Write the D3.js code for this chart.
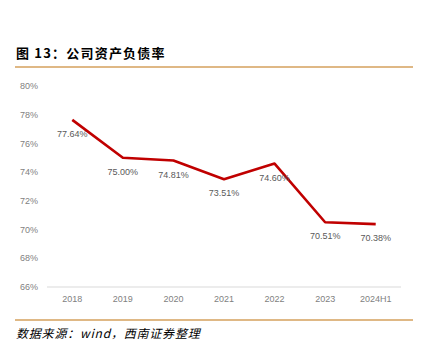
<!DOCTYPE html>
<html><head><meta charset="utf-8">
<script src="https://cdn.jsdelivr.net/npm/d3@7"></script>
<style>body{margin:0;background:#fff;}svg{display:block;}</style>
</head><body>
<script>
const categories = ["2018","2019","2020","2021","2022","2023","2024H1"];
const values = [77.64, 75.00, 74.81, 73.51, 74.60, 70.51, 70.38];
const yTicks = [66, 68, 70, 72, 74, 76, 78, 80];
const title = "图 13：公司资产负债率";
const source = "数据来源：wind，西南证券整理";

const W = 422, H = 356;
const svg = d3.select("body").append("svg").attr("width", W).attr("height", H);

svg.append("text").attr("x", 16).attr("y", 58)
  .attr("font-family", "'Noto Sans CJK SC', sans-serif").attr("font-weight", "bold")
  .attr("font-size", 13).attr("letter-spacing", 1.2).attr("fill", "#000").text(title);
svg.append("line").attr("x1", 15).attr("x2", 413).attr("y1", 67).attr("y2", 67)
  .attr("stroke", "#d4a05c").attr("stroke-width", 1.3);

const x = d3.scaleBand().domain(categories).range([47, 401]);
const y = d3.scaleLinear().domain([66, 80]).range([287, 86]);

const gy = svg.append("g");
yTicks.forEach(t => {
  gy.append("text").attr("x", 38).attr("y", y(t)).attr("dy", "0.35em")
    .attr("text-anchor", "end").attr("font-family", "'Liberation Sans', Arial, sans-serif")
    .attr("font-size", 9).attr("fill", "#7f7f7f").text(t + "%");
});
svg.append("line").attr("x1", 47).attr("x2", 401).attr("y1", y(66)).attr("y2", y(66))
  .attr("stroke", "#d9d9d9").attr("stroke-width", 1);

const xAxis = d3.axisBottom(x).tickSize(0).tickPadding(9);
const gx = svg.append("g").attr("transform", `translate(0,${y(66)})`).call(xAxis);
gx.select(".domain").remove();
gx.selectAll("text").attr("font-family", "'Liberation Sans', Arial, sans-serif")
  .attr("font-size", 9).attr("fill", "#7f7f7f");

const line = d3.line().x((d, i) => x(categories[i]) + x.bandwidth() / 2).y(d => y(d));
svg.append("path").datum(values).attr("d", line).attr("fill", "none")
  .attr("stroke", "#c00000").attr("stroke-width", 2.6).attr("stroke-linejoin", "round");

svg.selectAll(".lbl").data(values).enter().append("text")
  .attr("x", (d, i) => x(categories[i]) + x.bandwidth() / 2)
  .attr("y", d => y(d) + 14).attr("dy", "0.35em").attr("text-anchor", "middle")
  .attr("font-family", "'Liberation Sans', Arial, sans-serif").attr("font-size", 9)
  .attr("fill", "#595959").text(d => d.toFixed(2) + "%");

svg.append("line").attr("x1", 15).attr("x2", 413).attr("y1", 320).attr("y2", 320)
  .attr("stroke", "#d4a05c").attr("stroke-width", 1.3);
svg.append("text").attr("x", 16).attr("y", 338)
  .attr("font-family", "'Noto Sans CJK SC', sans-serif").attr("font-style", "italic")
  .attr("font-size", 12).attr("letter-spacing", 0.8).attr("fill", "#000").text(source);
</script>
</body></html>
